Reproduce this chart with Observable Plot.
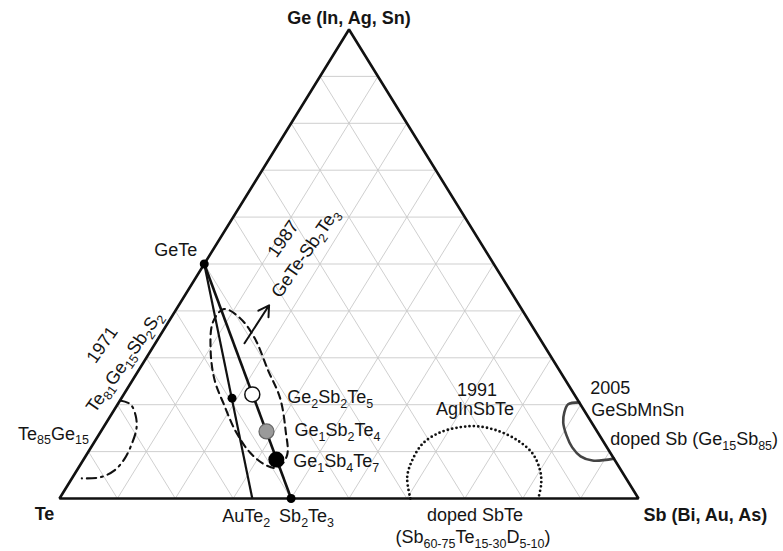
<!DOCTYPE html>
<html><head><meta charset="utf-8">
<script src="https://cdn.jsdelivr.net/npm/d3@7"></script>
<script src="https://cdn.jsdelivr.net/npm/@observablehq/plot@0.6"></script>
<style>body{margin:0;background:#fff;} svg{display:block;}</style>
</head><body><div id="chart"></div>
<script>
// ---- data (compositions in at.% : Ge, Sb; Te = 100 - Ge - Sb) ----
const gridTicks = [10, 20, 30, 40, 50, 60, 70, 80, 90];
const cornerNames = ["Te", "Sb", "Ge"];
const cornerGe = [0, 0, 100];
const cornerSb = [0, 100, 0];

const phaseNames = ["GeTe", "Sb2Te3", "AuTe2", "Ge2Sb2Te5", "Ge1Sb2Te4", "Ge1Sb4Te7", "AuTeGe"];
const phaseGe = [50, 0, 0, 22.2, 14.3, 8.3, 21.4];
const phaseSb = [0, 40, 33.3, 22.2, 28.6, 33.3, 19.1];

// 1987 GeTe-Sb2Te3 region (dashed, closed)
const gstGe = [40.4, 38.5, 34.2, 27.4, 21.4, 14.5, 9.2, 6.6, 7.1, 9.8, 14.5, 19.9, 25.2, 31.6, 37.6];
const gstSb = [8.2, 11.9, 16.6, 22.3, 27.4, 31.8, 34.7, 34.4, 32.1, 28.0, 23.1, 18.5, 14.2, 10.3, 7.7];
// 1971 Te81Ge15Sb2S2 region (dash-dot)
const tgsGe = [20.9, 20.1, 17.7, 15.0, 12.0, 8.5, 6.0, 4.5, 4.3];
const tgsSb = [0, 2.2, 4.3, 5.8, 6.6, 7.0, 6.5, 4.7, 1.7];
// 1991 AgInSbTe region (dotted)
const aistGe = [0, 4.5, 8.1, 11.75, 14.1, 15.2, 15.4, 14.5, 12.4, 9.6, 6.0, 3.2, 0];
const aistSb = [60.6, 57.8, 56.85, 56.9, 58.7, 61.6, 64.4, 68.3, 72.9, 76.9, 80.0, 81.6, 82.7];
// 2005 GeSbMnSn / doped Sb region (solid)
const gsGe = [20.5, 20.1, 18.4, 16.2, 13.5, 10.9, 9.0, 8.1, 8.5];
const gsSb = [79.5, 77.8, 78.0, 78.9, 80.8, 83.1, 85.5, 88.0, 91.5];
// arrow (GeTe-Sb2Te3 direction marker)
const arrowGe = [33.1, 41.2];
const arrowSb = [15.4, 15.6];

// ---- ternary projection ----
const tern = (ge, sb) => ({x: sb / 100 + ge / 200, y: ge / 100});
const pts = (G, S) => G.map((g, i) => tern(g, S[i]));
const phase = name => { const i = phaseNames.indexOf(name); return tern(phaseGe[i], phaseSb[i]); };
const corner = name => { const i = cornerNames.indexOf(name); return tern(cornerGe[i], cornerSb[i]); };

const gridLinks = [];
for (const t of gridTicks) {
  const a = [tern(t, 0), tern(t, 100 - t)];          // constant Ge
  const b = [tern(0, t), tern(100 - t, t)];          // constant Sb
  const c = [tern(0, 100 - t), tern(100 - t, 0)];    // constant Te
  for (const [p, q] of [a, b, c]) gridLinks.push({x1: p.x, y1: p.y, x2: q.x, y2: q.y});
}
const link = (p, q) => ({x1: p.x, y1: p.y, x2: q.x, y2: q.y});

const font = "'Liberation Sans', Arial, sans-serif";
function label(text, anchor, opts) {
  return Plot.text([{...anchor, text}], {x: "x", y: "y", text: "text", fontSize: 18, fill: "#151515", fontFamily: font, ...opts});
}

const a0 = tern(arrowGe[0], arrowSb[0]), a1 = tern(arrowGe[1], arrowSb[1]);
const aistTop = tern(aistGe[6], aistSb[6]);
const gsTop = tern(gsGe[0], gsSb[0]);
const edge30 = tern(30, 0);
const te85 = tern(15, 0);

const svg = Plot.plot({
  width: 783, height: 551,
  marginLeft: 59, marginRight: 145, marginTop: 29, marginBottom: 53,
  x: {domain: [0, 1], axis: null},
  y: {domain: [0, 1], axis: null},
  style: {background: "#fff", fontFamily: font},
  marks: [
    Plot.link(gridLinks, {x1: "x1", y1: "y1", x2: "x2", y2: "y2", stroke: "#c9c9c9", strokeWidth: 0.9}),
    Plot.line(pts(gstGe, gstSb), {x: "x", y: "y", curve: "catmull-rom-closed", stroke: "#111", strokeWidth: 2.1, strokeDasharray: "7,5"}),
    Plot.line(pts(tgsGe, tgsSb), {x: "x", y: "y", curve: "catmull-rom", stroke: "#111", strokeWidth: 2.1, strokeDasharray: "9,5,2,5"}),
    Plot.line(pts(aistGe, aistSb), {x: "x", y: "y", curve: "catmull-rom", stroke: "#111", strokeWidth: 2.8, strokeDasharray: "0,4.4", strokeLinecap: "round"}),
    Plot.line(pts(gsGe, gsSb), {x: "x", y: "y", curve: "catmull-rom", stroke: "#444", strokeWidth: 2.6}),
    Plot.line(cornerNames.map(corner), {x: "x", y: "y", curve: "linear-closed", stroke: "#111", strokeWidth: 2.6, strokeLinejoin: "miter"}),
    Plot.link([link(phase("GeTe"), phase("Sb2Te3"))], {x1: "x1", y1: "y1", x2: "x2", y2: "y2", stroke: "#111", strokeWidth: 2.6}),
    Plot.link([link(phase("GeTe"), phase("AuTe2"))], {x1: "x1", y1: "y1", x2: "x2", y2: "y2", stroke: "#111", strokeWidth: 2.2}),
    Plot.arrow([link(a0, a1)], {x1: "x1", y1: "y1", x2: "x2", y2: "y2", stroke: "#111", strokeWidth: 2, headLength: 9}),
    Plot.dot(["GeTe", "Sb2Te3", "AuTeGe"].map(phase), {x: "x", y: "y", r: 4.5, fill: "#000"}),
    Plot.dot([phase("Ge2Sb2Te5")], {x: "x", y: "y", r: 7.5, fill: "#fff", stroke: "#111", strokeWidth: 1.5}),
    Plot.dot([phase("Ge1Sb2Te4")], {x: "x", y: "y", r: 7.5, fill: "#9a9a9a", stroke: "#666", strokeWidth: 1.2}),
    Plot.dot([phase("Ge1Sb4Te7")], {x: "x", y: "y", r: 8, fill: "#000"}),
    // labels
    label("Ge (In, Ag, Sn)", corner("Ge"), {fontWeight: "bold", dy: -11}),
    label("Te", corner("Te"), {fontWeight: "bold", dx: -15, dy: 16}),
    label("Sb (Bi, Au, As)", corner("Sb"), {fontWeight: "bold", textAnchor: "start", dx: 5, dy: 17}),
    label("GeTe", phase("GeTe"), {textAnchor: "end", dx: -7, dy: -14}),
    label("AuTe_{2}", phase("AuTe2"), {textAnchor: "end", dx: 18, dy: 18}),
    label("Sb_{2}Te_{3}", phase("Sb2Te3"), {textAnchor: "start", dx: -12, dy: 18}),
    label("Ge_{2}Sb_{2}Te_{5}", phase("Ge2Sb2Te5"), {textAnchor: "start", dx: 35, dy: 3}),
    label("Ge_{1}Sb_{2}Te_{4}", phase("Ge1Sb2Te4"), {textAnchor: "start", dx: 28, dy: -1}),
    label("Ge_{1}Sb_{4}Te_{7}", phase("Ge1Sb4Te7"), {textAnchor: "start", dx: 17, dy: 2}),
    label("Te_{85}Ge_{15}", te85, {textAnchor: "end", dx: -14, dy: 6}),
    label("1971", edge30, {rotate: -55, dx: -44, dy: -13}),
    label("Te_{81}Ge_{15}Sb_{2}S_{2}", edge30, {rotate: -55, dx: -22, dy: 4}),
    label("1987", phase("GeTe"), {rotate: -55, dx: 79, dy: -25}),
    label("GeTe-Sb_{2}Te_{3}", phase("GeTe"), {rotate: -55, dx: 101, dy: -11}),
    label("1991", aistTop, {dx: 0, dy: -36}),
    label("AgInSbTe", aistTop, {dx: -2, dy: -17}),
    label("doped SbTe", aistTop, {dx: -2, dy: 89}),
    label("(Sb_{60-75}Te_{15-30}D_{5-10})", aistTop, {dx: -4, dy: 111}),
    label("2005", gsTop, {textAnchor: "start", dx: 11, dy: -14}),
    label("GeSbMnSn", gsTop, {textAnchor: "start", dx: 12, dy: 8}),
    label("doped Sb (Ge_{15}Sb_{85})", gsTop, {textAnchor: "start", dx: 31, dy: 37})
  ]
});

// subscripts as real tspans
const NS = "http://www.w3.org/2000/svg";
svg.querySelectorAll("text").forEach(t => {
  const s = t.textContent;
  if (!s.includes("_{")) return;
  while (t.firstChild) t.removeChild(t.firstChild);
  let shifted = false;
  for (const p of s.split(/(_\{[^}]*\})/)) {
    if (!p) continue;
    const ts = document.createElementNS(NS, "tspan");
    if (p.startsWith("_{")) {
      ts.textContent = p.slice(2, -1);
      ts.setAttribute("font-size", "12.5");
      if (!shifted) ts.setAttribute("dy", "4.5");
      shifted = true;
    } else {
      ts.textContent = p;
      if (shifted) ts.setAttribute("dy", "-4.5");
      shifted = false;
    }
    t.appendChild(ts);
  }
});
document.getElementById("chart").appendChild(svg);
</script>
</body></html>
